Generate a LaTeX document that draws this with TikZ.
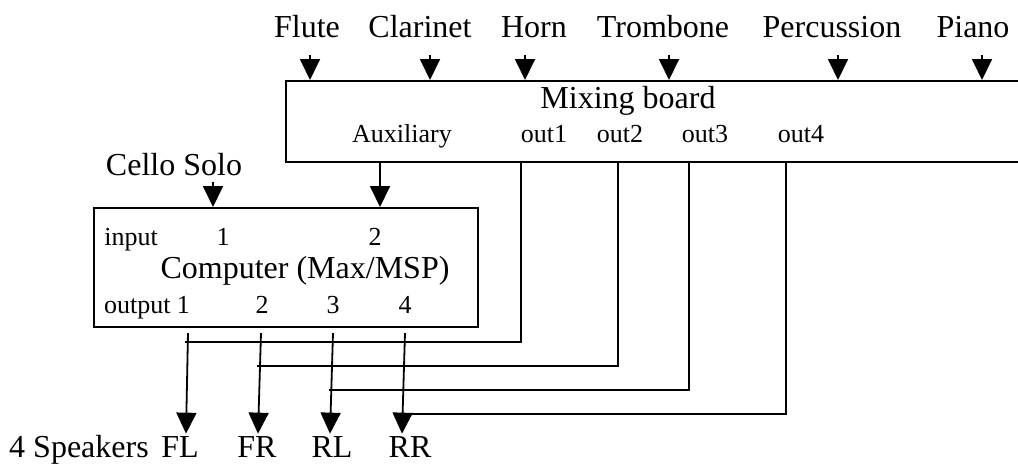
\documentclass[tikz,border=0pt]{standalone}
\usepackage{fontspec}
\setmainfont{Liberation Serif}
\usetikzlibrary{arrows.meta,positioning}

\begin{document}
\begin{tikzpicture}[x=0.5pt, y=-0.5pt,
    big/.style={font=\fontsize{16}{19}\selectfont, inner sep=0pt, anchor=base},
    small/.style={font=\fontsize{13}{15}\selectfont, inner sep=0pt, anchor=base},
    box/.style={draw, line width=0.9pt, anchor=north west, inner sep=0pt},
    feed/.style={-{Triangle[width=10pt, length=10.5pt]}, line width=0.9pt},
    wire/.style={line width=0.9pt}]

\useasboundingbox (0,0) rectangle (1018,463);
\clip (0,0) rectangle (1018,463);

% instruments along the top
\node[big] (flute)      at (307,37) {Flute};
\node[big] (clarinet)   at (420,37) {Clarinet};
\node[big] (horn)       at (534,37) {Horn};
\node[big] (trombone)   at (663,37) {Trombone};
\node[big] (percussion) at (832,37) {Percussion};
\node[big] (piano)      at (973,37) {Piano};

% mixing board -- runs off the right edge
\node[box, minimum width=380pt, minimum height=40.5pt] (mixer) at (285,80) {};
\node[big]   (mixlabel) at (628,108) {Mixing board};
\node[small] (aux)      at (402,142) {Auxiliary};
\node[small] (out1)     at (544,142) {out1};
\node[small] (out2)     at (620,142) {out2};
\node[small] (out3)     at (705,142) {out3};
\node[small] (out4)     at (801,142) {out4};

% one feed per instrument
\foreach \src/\dx in {flute/1.5, clarinet/5, horn/-4.5, trombone/3, percussion/3, piano/4.5} {
  \draw[feed] ([xshift=\dx pt, yshift=-9pt]\src.base) -- ([xshift=\dx pt]\src.base |- mixer.north);
}

% computer
\node[box, minimum width=192pt, minimum height=59.5pt] (computer) at (93,207) {};
\node[small] (inlabel)   at (131,245) {input};
\node[small] (in1)       at (223,245) {1};
\node[small] (in2)       at (375,245) {2};
\node[big]   (complabel) at (305,278) {Computer (Max/MSP)};
\node[small] (outlabel)  at (147,313) {output 1};
\node[small] (port2)     at (262,313) {2};
\node[small] (port3)     at (333,313) {3};
\node[small] (port4)     at (405,313) {4};

\node[big] (cello) at (174,175) {Cello Solo};

% inputs into the computer
\draw[feed] ([xshift=19.5pt, yshift=-3.5pt]cello.base) -- ([xshift=19.5pt]cello.base |- computer.north);
\draw[feed] ([xshift=-11pt]aux.base |- mixer.south) -- ([xshift=-11pt]aux.base |- computer.north);

% speakers
\node[big] (speakers) at (79,457) {4 Speakers};
\node[big] (FL) at (180,457) {FL};
\node[big] (FR) at (257,457) {FR};
\node[big] (RL) at (332,457) {RL};
\node[big] (RR) at (410,457) {RR};

% computer outputs straight down to the speakers
\coordinate (c1) at (188,333);
\coordinate (c2) at (261,333);
\coordinate (c3) at (333,333);
\coordinate (c4) at (405,333);
\foreach \src/\dst/\dx in {c1/FL/3, c2/FR/0.5, c3/RL/-1, c4/RR/-4} {
  \draw[feed] (\src) -- ([xshift=\dx pt, yshift=1pt]\dst.north);
}

% mixer outs joining the speaker lines
\coordinate (m1) at (521,161);
\coordinate (m2) at (618,161);
\coordinate (m3) at (689,161);
\coordinate (m4) at (786,161);
\coordinate (j1) at (185,342);
\coordinate (j2) at (257,366);
\coordinate (j3) at (329,390);
\coordinate (j4) at (402,414);
\foreach \tap/\jn in {m1/j1, m2/j2, m3/j3, m4/j4} {
  \draw[wire] (\tap) |- (\jn);
}

\end{tikzpicture}
\end{document}
